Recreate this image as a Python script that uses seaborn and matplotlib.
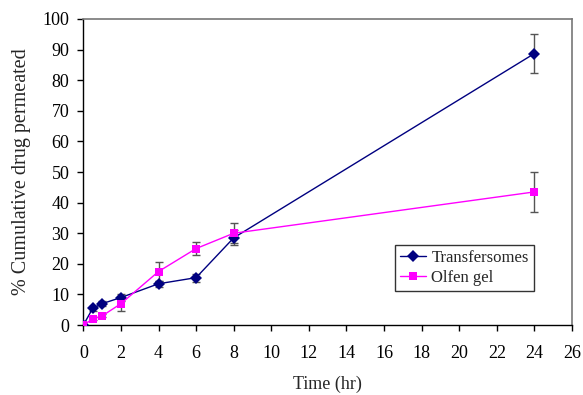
import matplotlib
matplotlib.use("Agg")
import matplotlib.pyplot as plt
import seaborn as sns
import pandas as pd
import numpy as np

time = [0, 0.5, 1, 2, 4, 6, 8, 24]
transfersomes = [0, 5.5, 7.0, 9.0, 13.5, 15.5, 28.5, 88.7]
transfersomes_err = [0, 0.8, 0.8, 1.0, 1.0, 1.3, 2.5, 6.3]
olfen = [0, 2.0, 3.0, 7.0, 17.5, 25.0, 30.0, 43.5]
olfen_err = [0, 0.5, 0.5, 2.5, 3.0, 2.0, 3.3, 6.5]

sns.set_theme(style="white")
plt.rcParams['font.family'] = ['Liberation Serif', 'DejaVu Serif']

df = pd.DataFrame({
    "Time": time * 2,
    "Value": transfersomes + olfen,
    "Err": transfersomes_err + olfen_err,
    "Series": ["Transfersomes"] * len(time) + ["Olfen gel"] * len(time),
})

fig = plt.figure(figsize=(5.83, 3.95), dpi=100)
ax = fig.add_axes([0.143, 0.177, 0.838, 0.775])

palette = {"Transfersomes": "#000080", "Olfen gel": "#FF00FF"}
markers = {"Transfersomes": "D", "Olfen gel": "s"}
for name in ["Transfersomes", "Olfen gel"]:
    sub = df[df["Series"] == name]
    ax.errorbar(sub["Time"], sub["Value"], yerr=sub["Err"], fmt="none",
                ecolor="#555555", elinewidth=1, capsize=3, capthick=1, zorder=2)
sns.lineplot(data=df, x="Time", y="Value", hue="Series", style="Series",
             palette=palette, markers=markers, dashes=False, ax=ax,
             linewidth=1, markersize=6, markeredgewidth=0, zorder=3)

ax.set_xlim(0, 26)
ax.set_ylim(0, 100)
ax.set_xticks(range(0, 27, 2))
ax.set_yticks(range(0, 101, 10))
ax.set_xlabel("Time (hr)", fontsize=13, labelpad=10)
ax.set_ylabel("% Cumulative drug permeated", fontsize=14.5, labelpad=8)
ax.tick_params(axis="both", labelsize=13, length=4, width=1, direction="out",
               bottom=True, left=True, colors="black")
ax.tick_params(axis="x", pad=10)
ax.tick_params(axis="y", pad=6)
for s in ["left", "bottom"]:
    ax.spines[s].set_color("black")
    ax.spines[s].set_linewidth(1)
for s in ["top", "right"]:
    ax.spines[s].set_color("#777777")
    ax.spines[s].set_linewidth(1.2)

leg = ax.legend(loc="lower left", bbox_to_anchor=(0.62, 0.085), fontsize=12,
                frameon=True, fancybox=False, edgecolor="black",
                handlelength=1.6, handletextpad=0.3, borderpad=0.3,
                labelspacing=0.25)
leg.get_frame().set_linewidth(1)
leg.set_title(None)

fig.savefig("out.png", dpi=100)
